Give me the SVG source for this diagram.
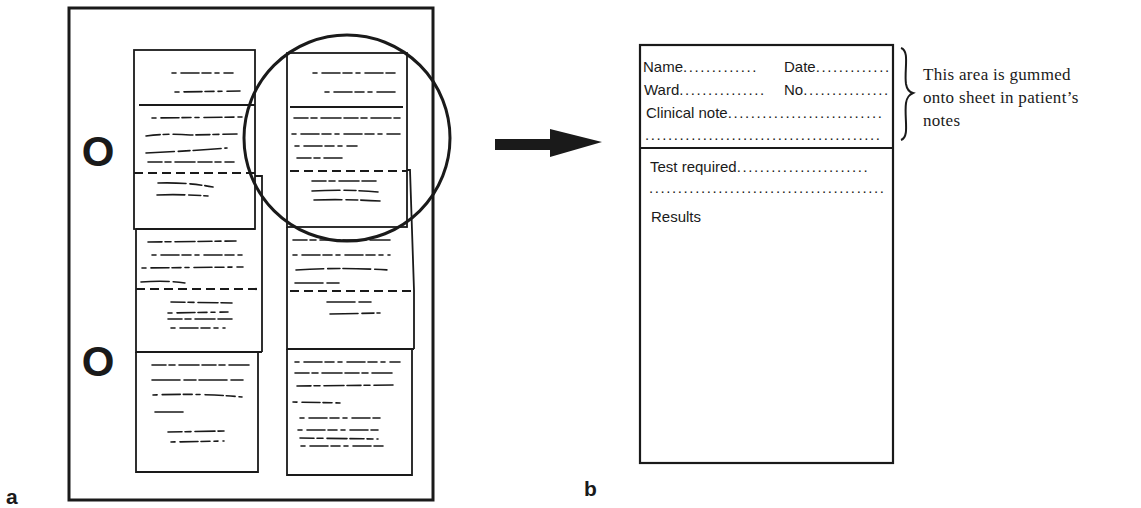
<svg xmlns="http://www.w3.org/2000/svg" width="1141" height="508" viewBox="0 0 1141 508">
<style>
.frame{fill:none;stroke:#1a1a1a;stroke-width:3}
.sheet{fill:#fff;stroke:#1a1a1a;stroke-width:1.8}
.edge{fill:none;stroke:#1a1a1a;stroke-width:1.8}
.solid{stroke:#1a1a1a;stroke-width:1.8}
.dash{stroke:#1a1a1a;stroke-width:2.2;stroke-dasharray:9 5}
.scr{fill:none;stroke:#1a1a1a;stroke-width:1.6;stroke-linecap:round}
.s1{stroke-dasharray:14 3 6 4 20 3}
.s2{stroke-dasharray:4 5 18 3 9 4}
.s3{stroke-dasharray:28 4 12 3}
.form{font-family:"Liberation Sans",Arial,sans-serif;font-size:15px;fill:#1a1a1a}
.side{font-family:"Liberation Serif","Times New Roman",serif;font-size:17px;letter-spacing:0.3px;fill:#1a1a1a}
.big{font-family:"Liberation Sans",Arial,sans-serif;font-weight:bold;fill:#1a1a1a}
.dots{letter-spacing:1.6px}
</style>

<g id="panel-a">
  <rect class="frame" x="69" y="8" width="364" height="492"/>
  <text class="big" x="98" y="166" font-size="42" text-anchor="middle">O</text>
  <text class="big" x="98" y="376" font-size="42" text-anchor="middle">O</text>

  <g id="left-sheet-2">
    <path class="edge" d="M255,176 L262,176 L262,352"/>
  </g>
  <g id="left-sheet-1">
    <rect class="sheet" x="134" y="50" width="121" height="179"/>
    <line class="solid" x1="139" y1="105" x2="255" y2="105"/>
    <line class="dash" x1="134" y1="173" x2="255" y2="173"/>
    <path class="scr s2" d="M172,73 L233,73"/>
    <path class="scr s2" d="M175,92 L240,91"/>
    <path class="scr s2" d="M152,118 L243,117"/>
    <path class="scr s1" d="M146,136 Q170,133 190,135 L237,134"/>
    <path class="scr s3" d="M146,153 Q190,151 227,148"/>
    <path class="scr s1" d="M148,162 L234,162"/>
    <path class="scr s3" d="M158,183 Q185,182 213,187"/>
    <path class="scr s3" d="M157,195 Q180,194 208,196"/>
  </g>
  <g id="left-sheet-2b">
    <path class="edge" d="M136,229 L255,229 M136,229 L136,352 L262,352"/>
    <line class="dash" x1="136" y1="289" x2="259" y2="289"/>
    <path class="scr s1" d="M148,242 L236,241"/>
    <path class="scr s2" d="M152,255 L243,255"/>
    <path class="scr s2" d="M142,268 L243,267"/>
    <path class="scr s3" d="M141,282 Q165,280 185,283"/>
    <path class="scr s1" d="M171,302 L232,303"/>
    <path class="scr s2" d="M168,313 L228,312"/>
    <path class="scr s1" d="M168,319 L233,319"/>
    <path class="scr s2" d="M171,328 L225,328"/>
  </g>
  <g id="left-sheet-3">
    <path class="edge" d="M136,352 L136,472 L258,472 L258,352"/>
    <path class="scr s1" d="M152,365 L250,365"/>
    <path class="scr s3" d="M152,380 L243,380"/>
    <path class="scr s2" d="M153,395 Q200,393 242,397"/>
    <path class="scr s3" d="M155,412 L187,412"/>
    <path class="scr s1" d="M168,432 L224,431"/>
    <path class="scr s2" d="M171,442 L224,441"/>
  </g>

  <g id="right-sheet-2">
    <path class="edge" d="M407,170 L410,170 L414,290 L414,349"/>
  </g>
  <g id="right-sheet-1">
    <rect class="sheet" x="287" y="53" width="120" height="174"/>
    <line class="solid" x1="290" y1="107" x2="403" y2="107"/>
    <line class="dash" x1="290" y1="171" x2="407" y2="171"/>
    <path class="scr s2" d="M313,73 L396,73"/>
    <path class="scr s2" d="M325,92 L396,92"/>
    <path class="scr s1" d="M294,118 L400,118"/>
    <path class="scr s2" d="M292,134 L400,134"/>
    <path class="scr s2" d="M295,146 L357,146"/>
    <path class="scr s1" d="M297,158 L342,158"/>
    <path class="scr s1" d="M312,181 L378,181"/>
    <path class="scr s3" d="M312,191 Q345,189 378,192"/>
    <path class="scr s3" d="M314,200 Q345,199 380,201"/>
  </g>
  <g id="right-sheet-2b">
    <path class="edge" d="M287,227 L287,349 L414,349"/>
    <line class="dash" x1="290" y1="291" x2="414" y2="291"/>
    <path class="scr s1" d="M293,240 L391,240"/>
    <path class="scr s2" d="M293,255 L390,255"/>
    <path class="scr s3" d="M296,270 Q340,267 389,270"/>
    <path class="scr s3" d="M295,283 L340,283"/>
    <path class="scr s3" d="M327,302 L373,302"/>
    <path class="scr s3" d="M330,314 L380,313"/>
  </g>
  <g id="right-sheet-3">
    <path class="edge" d="M287,349 L287,475 L412,475 L412,349"/>
    <path class="scr s2" d="M295,362 L400,362"/>
    <path class="scr s1" d="M295,373 L393,373"/>
    <path class="scr s1" d="M297,386 L393,385"/>
    <path class="scr s2" d="M293,402 L341,403"/>
    <path class="scr s2" d="M300,418 L380,418"/>
    <path class="scr s2" d="M298,430 L378,430"/>
    <path class="scr s1" d="M300,438 L378,439"/>
    <path class="scr s2" d="M301,446 L385,446"/>
  </g>

  <circle cx="347" cy="138" r="103" fill="none" stroke="#1a1a1a" stroke-width="3"/>
  <text class="big" x="6" y="504" font-size="21">a</text>
</g>

<g id="connectors">
  <path d="M495,139 L550,139 L550,129 L602,142 L550,157 L550,150 L495,150 Z" fill="#1a1a1a"/>
</g>

<g id="panel-b">
  <rect x="640" y="45" width="253" height="418" fill="none" stroke="#1a1a1a" stroke-width="2.2"/>
  <line x1="640" y1="148" x2="893" y2="148" stroke="#1a1a1a" stroke-width="2.2"/>
  <text class="form" x="643" y="72">Name<tspan class="dots">.............</tspan></text>
  <text class="form" x="784" y="72">Date<tspan class="dots">.............</tspan></text>
  <text class="form" x="644" y="95">Ward<tspan class="dots">...............</tspan></text>
  <text class="form" x="784" y="95">No<tspan class="dots">...............</tspan></text>
  <text class="form" x="646" y="118">Clinical note<tspan class="dots">...........................</tspan></text>
  <text class="form" x="645" y="140"><tspan class="dots">.........................................</tspan></text>
  <text class="form" x="650" y="172">Test required<tspan class="dots">.......................</tspan></text>
  <text class="form" x="649" y="193"><tspan class="dots">.........................................</tspan></text>
  <text class="form" x="651" y="222">Results</text>
  <text class="big" x="584" y="496" font-size="21">b</text>
</g>

<g id="annotation">
  <path d="M901,48 C910,51 904,70 906,84 C907,90 909,92 913,93 C909,95 907,97 906,103 C904,118 910,137 901,140" fill="none" stroke="#1a1a1a" stroke-width="2"/>
  <text class="side" x="923" y="80">This area is gummed</text>
  <text class="side" x="923" y="103">onto sheet in patient’s</text>
  <text class="side" x="923" y="126">notes</text>
</g>
</svg>
